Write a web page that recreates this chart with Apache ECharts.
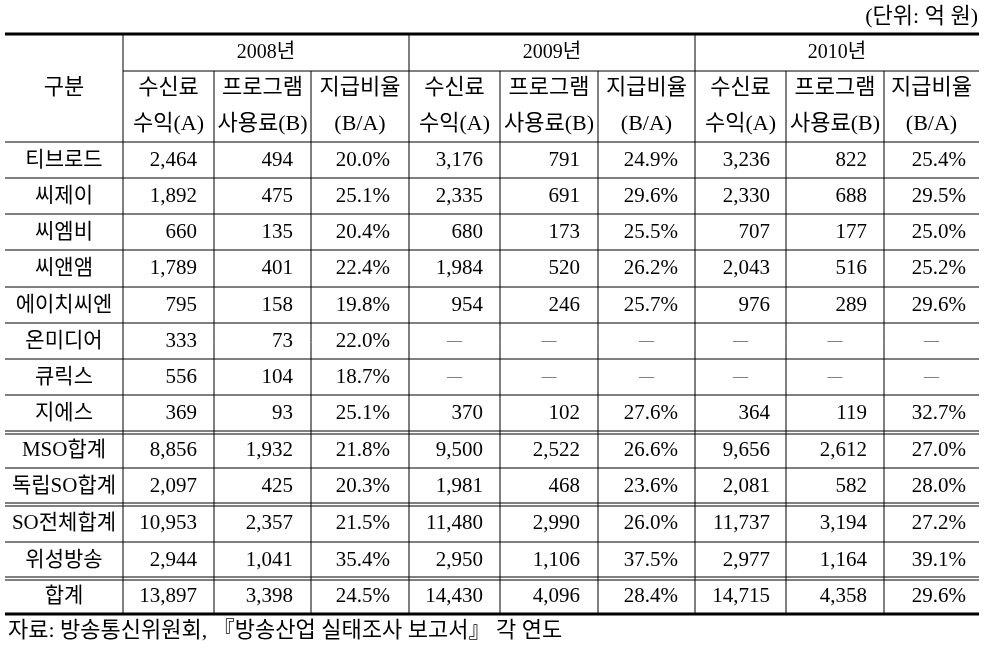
<!DOCTYPE html>
<html><head><meta charset="utf-8">
<script src="https://cdn.jsdelivr.net/npm/echarts@6/dist/echarts.min.js"></script>
<style>html,body{margin:0;padding:0;background:#fff}#c{width:986px;height:649px}</style>
</head><body><div id="c"></div>
<script>
// ---------- data ----------
const rowHeader = '구분';
const unitLabel = '(단위: 억 원)';
const sourceNote = '자료: 방송통신위원회, 『방송산업 실태조사 보고서』 각 연도';
const years = ['2008년', '2009년', '2010년'];
const subHeaders = ['수신료\n수익(A)', '프로그램\n사용료(B)', '지급비율\n(B/A)'];
const categories = ['티브로드','씨제이','씨엠비','씨앤앰','에이치씨엔','온미디어','큐릭스','지에스','MSO합계','독립SO합계','SO전체합계','위성방송','합계'];
const revenue2008 = [2464,1892,660,1789,795,333,556,369,8856,2097,10953,2944,13897];
const fee2008     = [494,475,135,401,158,73,104,93,1932,425,2357,1041,3398];
const ratio2008   = [20.0,25.1,20.4,22.4,19.8,22.0,18.7,25.1,21.8,20.3,21.5,35.4,24.5];
const revenue2009 = [3176,2335,680,1984,954,null,null,370,9500,1981,11480,2950,14430];
const fee2009     = [791,691,173,520,246,null,null,102,2522,468,2990,1106,4096];
const ratio2009   = [24.9,29.6,25.5,26.2,25.7,null,null,27.6,26.6,23.6,26.0,37.5,28.4];
const revenue2010 = [3236,2330,707,2043,976,null,null,364,9656,2081,11737,2977,14715];
const fee2010     = [822,688,177,516,289,null,null,119,2612,582,3194,1164,4358];
const ratio2010   = [25.4,29.5,25.0,25.2,29.6,null,null,32.7,27.0,28.0,27.2,39.1,29.6];

// ---------- layout ----------
const colEdges = [5,123,214,311,409,500,598,695,786,884,979];
const colPad   = [0,17,18,19,17,18,17,16,17,13];
const headTop = 34, headMid = 71;
const rowEdges = [142,178,214,250,287,323,359,395,432.5,468,504.5,542,578.5,614];
const doubleAfter = [7,9,11];
const FONT = "'Liberation Serif','Noto Sans CJK KR',serif";

const yearCols = [
  [revenue2008, fee2008, ratio2008],
  [revenue2009, fee2009, ratio2009],
  [revenue2010, fee2010, ratio2010]
];

const cells = [];
cells.push({ value: [0, -2], kind: 'corner', text: rowHeader });
years.forEach((y, i) => cells.push({ value: [1 + i * 3, -2], kind: 'year', text: y }));
years.forEach((y, i) => subHeaders.forEach((s, j) => cells.push({ value: [1 + i * 3 + j, -1], kind: 'sub', text: s })));
categories.forEach((c, r) => {
  cells.push({ value: [0, r], kind: 'label', text: c });
  yearCols.forEach((arrs, i) => arrs.forEach((arr, j) => {
    const v = arr[r];
    let t, kind;
    if (v == null) { t = '—'; kind = 'dash'; }
    else if (j === 2) { t = v.toFixed(1) + '%'; kind = 'num'; }
    else { t = v.toLocaleString('en-US'); kind = 'num'; }
    cells.push({ value: [1 + i * 3 + j, r], kind, text: t });
  }));
});

function cellBox(c, r, kind) {
  let x0 = colEdges[c], x1 = colEdges[c + 1], y0, y1;
  if (kind === 'corner') { y0 = headTop; y1 = rowEdges[0]; }
  else if (kind === 'year') { x1 = colEdges[c + 3]; y0 = headTop; y1 = headMid; }
  else if (kind === 'sub') { y0 = headMid; y1 = rowEdges[0]; }
  else { y0 = rowEdges[r]; y1 = rowEdges[r + 1]; }
  return [x0, y0, x1, y1];
}

const sizes = { corner: 22, year: 20, sub: 22, label: 21, num: 21, dash: 15 };

const chart = echarts.init(document.getElementById('c'), null, { renderer: 'canvas' });
chart.setOption({
  backgroundColor: '#fff',
  animation: false,
  title: [
    { text: unitLabel, right: 8, top: 6, padding: 0, textStyle: { fontFamily: FONT, fontSize: 22, fontWeight: 'normal', color: '#000' } },
    { text: sourceNote, left: 8, top: 620, padding: 0, textStyle: { fontFamily: FONT, fontSize: 22, fontWeight: 'normal', color: '#000' } }
  ],
  grid: { left: 0, right: 0, top: 0, bottom: 0 },
  xAxis: { type: 'value', min: 0, max: 986, show: false },
  yAxis: { type: 'value', min: 0, max: 649, inverse: true, show: false },
  series: [
    {
      type: 'custom', silent: true,
      data: [[0, 0]],
      renderItem: function (params, api) {
        const ch = [];
        const line = (x0, y0, x1, y1, w) => {
          const a = api.coord([x0, y0]), b = api.coord([x1, y1]);
          ch.push({ type: 'line', shape: { x1: a[0], y1: a[1], x2: b[0], y2: b[1] }, style: { stroke: '#000', lineWidth: w } });
        };
        const L = colEdges[0], R = colEdges[colEdges.length - 1];
        const bottom = rowEdges[rowEdges.length - 1];
        line(L, headTop, R, headTop, 3);
        line(L, bottom, R, bottom, 3);
        line(colEdges[1], headMid, R, headMid, 1);
        for (let i = 0; i < rowEdges.length - 1; i++) {
          const y = rowEdges[i];
          if (doubleAfter.indexOf(i - 1) >= 0) {
            line(L, y - 1.5, R, y - 1.5, 1);
            line(L, y + 1.5, R, y + 1.5, 1);
          } else {
            line(L, y, R, y, 1);
          }
        }
        for (let c = 1; c < colEdges.length - 1; c++) {
          const top = ((c - 1) % 3 === 0) ? headTop : headMid;
          line(colEdges[c], top, colEdges[c], bottom, 1);
        }
        return { type: 'group', children: ch };
      }
    },
    {
      type: 'custom', silent: true,
      data: cells,
      renderItem: function (params, api) {
        const d = cells[params.dataIndex];
        const c = d.value[0], r = d.value[1];
        const box = cellBox(c, r, d.kind);
        const a = api.coord([box[0], box[1]]), b = api.coord([box[2], box[3]]);
        const cy = (a[1] + b[1]) / 2;
        let x = (a[0] + b[0]) / 2, align = 'center';
        let color = d.kind === 'dash' ? '#555' : '#000';
        if (d.kind === 'num') { x = b[0] - colPad[c]; align = 'right'; }
        return {
          type: 'text',
          style: {
            x: x, y: cy, text: d.text, textAlign: align, textVerticalAlign: 'middle',
            fontFamily: FONT, fontSize: sizes[d.kind], lineHeight: 36, fill: color
          }
        };
      }
    }
  ]
});
</script></body></html>
